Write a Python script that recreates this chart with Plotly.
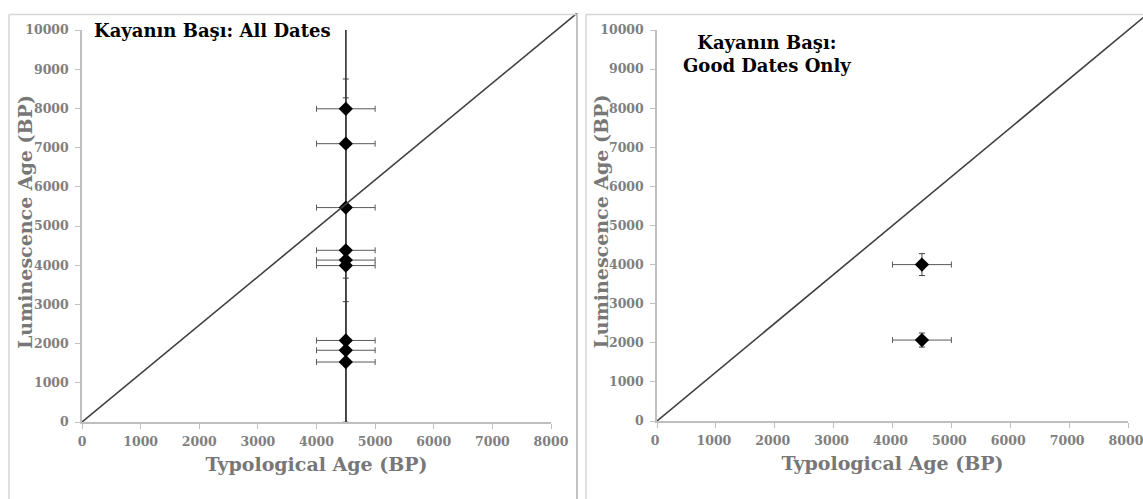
import plotly.graph_objects as go

# window size; the page margin is removed by a small post script
W, H = 1143, 499
OFF = 0

# ---------------- data ----------------
typ_all = [4500, 4500, 4500, 4500, 4500, 4500, 4500, 4500, 4500]
lum_all = [7990, 7100, 5470, 4380, 4130, 3990, 2080, 1830, 1530]
typ_err_all = [500, 500, 500, 500, 500, 500, 500, 500, 500]
lum_err_all = [3620, 2970, 5500, 5700, 4620, 4280, 2090, 1840, 1540]

typ_good = [4500, 4500]
lum_good = [4000, 2070]
typ_err_good = [500, 500]
lum_err_good = [280, 180]

# reference line (drawn from origin to the chart corner)
ref_left_x = [0, 8445]
ref_left_y = [0, 10430]
ref_right_x = [0, 8420]
ref_right_y = [0, 10520]

x_ticks = [0, 1000, 2000, 3000, 4000, 5000, 6000, 7000, 8000]
x_ticklabels = ["0", "1000", "2000", "3000", "4000", "5000", "6000", "7000", "8000"]
y_ticks = [0, 1000, 2000, 3000, 4000, 5000, 6000, 7000, 8000, 9000, 10000]
y_ticklabels = ["0", "1000", "2000", "3000", "4000", "5000", "6000", "7000",
                "8000", "9000", "10000"]
x_range = [0, 8000]
y_range = [0, 10000]

title_left = "Kayanın Başı: All Dates"
title_right = "Kayanın Başı:<br>Good Dates Only"
x_title = "Typological Age (BP)"
y_title = "Luminescence Age (BP)"

# ---------------- layout helpers (window pixels -> paper) ----------------
def px(x):
    return (x - OFF) / W

def py(y):
    return 1 - (y - OFF) / H

FONT = "DejaVu Serif"
TICK_COLOR = "#7f7f7f"
TITLE_COLOR = "#777777"
AXIS_COLOR = "#bfbfbf"
BAR_COLOR = "#404040"

# plot areas (window pixels)
L = dict(x0=82, x1=551, y0=422, y1=30, ex=577, ey=13)
R = dict(x0=657, x1=1128, y0=421, y1=30, ex=1143, ey=14)

fig = go.Figure()

def add_points(x, y, ex, ey, xa, ya):
    fig.add_trace(go.Scatter(
        x=x, y=y, mode="markers", xaxis=xa, yaxis=ya,
        marker=dict(symbol="diamond", size=11, color="black"),
        error_x=dict(type="data", array=ex, visible=True, color="#5a5a5a",
                     thickness=1, width=3),
        error_y=dict(type="data", array=ey, visible=True, color=BAR_COLOR,
                     thickness=1, width=3),
        showlegend=False, hoverinfo="x+y"))

# reference lines on extended (invisible) axes with identical scale
fig.add_trace(go.Scatter(x=ref_left_x, y=ref_left_y, mode="lines",
                         xaxis="x3", yaxis="y3",
                         line=dict(color="#404040", width=1.6),
                         showlegend=False, hoverinfo="skip"))
fig.add_trace(go.Scatter(x=ref_right_x, y=ref_right_y, mode="lines",
                         xaxis="x4", yaxis="y4",
                         line=dict(color="#404040", width=1.6),
                         showlegend=False, hoverinfo="skip"))

add_points(typ_all, lum_all, typ_err_all, lum_err_all, "x", "y")
add_points(typ_good, lum_good, typ_err_good, lum_err_good, "x2", "y2")

tickfont = dict(family=FONT, size=12.5, color=TICK_COLOR, weight="bold")
titlefont = dict(family=FONT, size=19, color=TITLE_COLOR, weight="bold")

def xaxis(P, anchor, shift=0):
    return dict(domain=[px(P["x0"]), px(P["x1"])], range=x_range,
                tickvals=x_ticks, ticktext=x_ticklabels,
                showline=True, linecolor=AXIS_COLOR,
                linewidth=1.5, ticks="outside", ticklen=5, tickcolor=AXIS_COLOR,
                showgrid=False, zeroline=False, tickfont=tickfont,
                ticklabeloverflow="allow", ticklabelstandoff=2,
                ticklabelshift=shift,
                anchor=anchor, automargin=False,
                title=dict(text=x_title, font=titlefont, standoff=10))

def yaxis(P, anchor):
    return dict(domain=[py(P["y0"]), py(P["y1"])], range=y_range,
                tickvals=y_ticks, ticktext=y_ticklabels,
                showline=True, linecolor=AXIS_COLOR,
                linewidth=1.5, ticks="outside", ticklen=5, tickcolor=AXIS_COLOR,
                showgrid=False, zeroline=False, tickfont=tickfont,
                ticklabeloverflow="allow", ticklabelstandoff=4,
                anchor=anchor, automargin=False)

def ext_x(P, anchor):
    span = (P["ex"] - P["x0"]) / (P["x1"] - P["x0"])
    return dict(domain=[px(P["x0"]), min(1.0, px(P["ex"]))],
                range=[x_range[0], x_range[1] * span],
                visible=False, anchor=anchor, showgrid=False, zeroline=False,
                automargin=False)

def ext_y(P, anchor):
    span = (P["y0"] - P["ey"]) / (P["y0"] - P["y1"])
    return dict(domain=[py(P["y0"]), min(1.0, py(P["ey"]))],
                range=[y_range[0], y_range[1] * span],
                visible=False, anchor=anchor, showgrid=False, zeroline=False,
                automargin=False)

border_light = "#d6d6d6"
border_dark = "#9a9a9a"

shapes = [
    # left chart frame
    dict(type="line", xref="paper", yref="paper", x0=px(9), x1=px(9),
         y0=py(14.5), y1=-0.05, line=dict(color=border_light, width=1.5)),
    dict(type="line", xref="paper", yref="paper", x0=px(9), x1=px(577),
         y0=py(14.5), y1=py(14.5), line=dict(color=border_light, width=1.5)),
    dict(type="line", xref="paper", yref="paper", x0=px(577), x1=px(577),
         y0=py(13), y1=-0.05, line=dict(color=border_dark, width=1.2)),
    # right chart frame
    dict(type="line", xref="paper", yref="paper", x0=px(586), x1=px(586),
         y0=py(14.5), y1=-0.05, line=dict(color=border_light, width=1.5)),
    dict(type="line", xref="paper", yref="paper", x0=px(586), x1=1.01,
         y0=py(14.5), y1=py(14.5), line=dict(color=border_light, width=1.5)),
]

annotations = [
    dict(text=title_left, xref="paper", yref="paper", x=px(92), y=py(31),
         xanchor="left", yanchor="middle", showarrow=False,
         font=dict(family=FONT, size=18, color="black", weight="bold")),
    dict(text=title_right, xref="paper", yref="paper", x=px(767), y=py(54),
         xanchor="center", yanchor="middle", showarrow=False, align="center",
         font=dict(family=FONT, size=18, color="black", weight="bold")),
    # y-axis titles
    dict(text=y_title, xref="paper", yref="paper", x=px(25),
         y=py((L["y0"] + L["y1"]) / 2 - 4), xanchor="center", yanchor="middle",
         textangle=-90, showarrow=False, font=titlefont),
    dict(text=y_title, xref="paper", yref="paper", x=px(601),
         y=py((R["y0"] + R["y1"]) / 2 - 4), xanchor="center", yanchor="middle",
         textangle=-90, showarrow=False, font=titlefont),
]

fig.update_layout(
    width=W, height=H,
    margin=dict(l=0, r=0, t=0, b=0, autoexpand=False),
    paper_bgcolor="white", plot_bgcolor="rgba(0,0,0,0)",
    xaxis=xaxis(L, "y"), yaxis=yaxis(L, "x"),
    xaxis2=xaxis(R, "y2", shift=-2), yaxis2=yaxis(R, "x2"),
    xaxis3=ext_x(L, "y3"), yaxis3=ext_y(L, "x3"),
    xaxis4=ext_x(R, "y4"), yaxis4=ext_y(R, "x4"),
    shapes=shapes, annotations=annotations,
    showlegend=False,
)

page_fix = ("document.documentElement.style.margin='0';"
            "document.body.style.margin='0';"
            "document.body.style.overflow='hidden';"
            "document.documentElement.style.overflow='hidden';")

fig.write_html("out.html", post_script=page_fix,
               config={"displayModeBar": False})
